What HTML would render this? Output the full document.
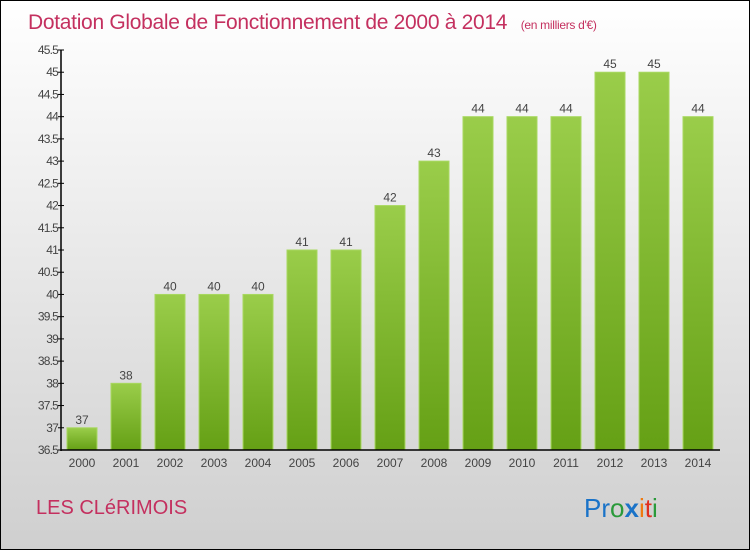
<!DOCTYPE html>
<html><head><meta charset="utf-8"><style>
html,body{margin:0;padding:0}
body{width:750px;height:550px;overflow:hidden;font-family:"Liberation Sans",sans-serif}
#wrap{position:absolute;left:0;top:0;width:748px;height:548px;border:1px solid #000;background:linear-gradient(#ffffff,#cfcfcf)}
</style></head><body>
<div id="wrap">
<svg width="750" height="550" style="position:absolute;left:-1px;top:-1px" id="chart">
<defs><linearGradient id="g" x1="0" y1="0" x2="0" y2="1"><stop offset="0" stop-color="#9acd4a"/><stop offset="1" stop-color="#65a015"/></linearGradient></defs>
<text x="28" y="29" font-size="21" fill="#c4305f" letter-spacing="-0.3">Dotation Globale de Fonctionnement de 2000 à 2014 <tspan font-size="12" dx="8">(en milliers d'€)</tspan></text>
<text x="36" y="514" font-size="20" fill="#c4305f">LES CLéRIMOIS</text>
<text x="584" y="517" font-size="26"><tspan fill="#1a73c8">Pr</tspan><tspan fill="#2a9a3a">o</tspan><tspan fill="#1a73c8" font-weight="bold">x</tspan><tspan fill="#f07a10">i</tspan><tspan fill="#e03020">t</tspan><tspan fill="#2a9a3a">i</tspan></text>
<g id="plot"></g>
</svg>
</div>
<script>
const categories=["2000","2001","2002","2003","2004","2005","2006","2007","2008","2009","2010","2011","2012","2013","2014"];
const values=[37,38,40,40,40,41,41,42,43,44,44,44,45,45,44];
const ticks=[36.5,37,37.5,38,38.5,39,39.5,40,40.5,41,41.5,42,42.5,43,43.5,44,44.5,45,45.5];
const yMin=36.5,yMax=45.5;
const y=v=>450-(v-yMin)/(yMax-yMin)*400;
const x=i=>82+44*i;
const ns="http://www.w3.org/2000/svg";
const g=document.getElementById('plot');
function mk(t,a){const e=document.createElementNS(ns,t);for(const k in a)e.setAttribute(k,a[k]);g.appendChild(e);return e;}
values.forEach((v,i)=>{
 const r=mk('rect',{x:x(i)-15,y:y(v),width:30,height:450-y(v),fill:'url(#g)',stroke:'#a8d860','stroke-width':1});
 
 
 const t=mk('text',{x:x(i),y:y(v)-4,'font-size':12,fill:'#444','text-anchor':'middle'});
 t.textContent=v;
 
 
 const c=mk('text',{x:x(i),y:467,'font-size':12,fill:'#444','text-anchor':'middle'});
 c.textContent=categories[i];
 
 
});
ticks.forEach(v=>{
 const l=mk('line',{x1:58,x2:64,y1:y(v),y2:y(v),stroke:'#000'});
 
 
 const t=mk('text',{x:58,y:y(v)+4,'font-size':12,fill:'#444','text-anchor':'end','letter-spacing':'-0.8'});
 t.textContent=v;
 
 
});
const ya=mk('line',{x1:61,x2:61,y1:50,y2:451,stroke:'#000','stroke-width':1.5});


const xa=mk('line',{x1:61,x2:720,y1:450,y2:450,stroke:'#000','stroke-width':1.5});


</script>
</body></html>
